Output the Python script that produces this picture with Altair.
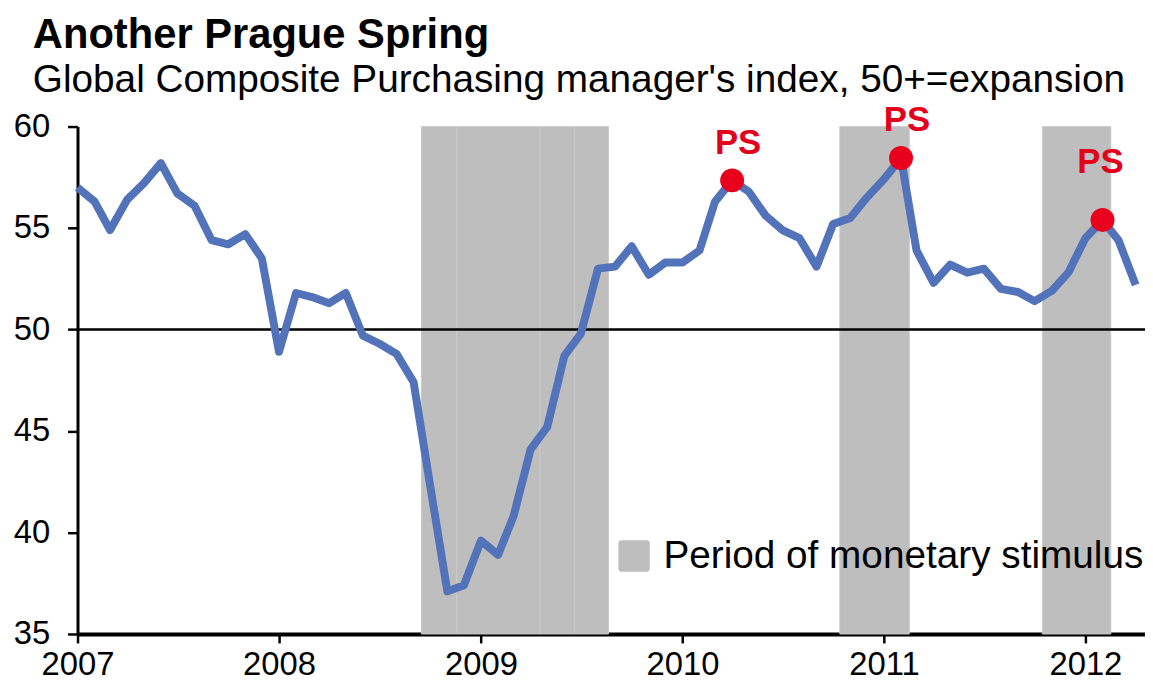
import altair as alt
import pandas as pd

# ---- data ----
months = pd.date_range("2007-01-01", "2012-04-01", freq="MS")
pmi = [
    57.0, 56.3, 54.9, 56.4, 57.2, 58.2, 56.7, 56.1, 54.4, 54.2, 54.7, 53.5,   # 2007
    48.9, 51.8, 51.6, 51.3, 51.8, 49.7, 49.3, 48.8, 47.4, 42.3, 37.1, 37.4,   # 2008
    39.6, 38.9, 40.8, 44.1, 45.2, 48.7, 49.8, 53.0, 53.1, 54.1, 52.7, 53.3,   # 2009
    53.3, 53.9, 56.3, 57.35, 56.8, 55.6, 54.9, 54.5, 53.1, 55.2, 55.5, 56.5,  # 2010
    57.4, 58.45, 53.9, 52.3, 53.2, 52.8, 53.0, 52.0, 51.85, 51.4, 51.9, 52.8, # 2011
    54.5, 55.4, 54.4, 52.2,                                                   # 2012
]

band_start = ["2008-09-15", "2008-11-18", "2009-04-18", "2009-06-20", "2010-10-13", "2011-10-15"]
band_end = ["2008-11-18", "2009-04-18", "2009-06-20", "2009-08-20", "2011-02-16", "2012-02-16"]
band_label = "Period of monetary stimulus"

ps_dates = ["2010-04-01", "2011-02-01", "2012-02-01"]
ps_values = [57.35, 58.45, 55.4]
ps_text = ["PS", "PS", "PS"]

threshold = [50]
y_ticks = [35, 40, 45, 50, 55, 60]

# ---- tables ----
line_df = pd.DataFrame({"date": months, "pmi": pmi})
band_df = pd.DataFrame({
    "start": pd.to_datetime(band_start),
    "end": pd.to_datetime(band_end),
    "label": [band_label] * len(band_start),
})
ps_df = pd.DataFrame({"date": pd.to_datetime(ps_dates), "pmi": ps_values, "t": ps_text})
rule_df = pd.DataFrame({"pmi": threshold})

FONT = "Liberation Sans"
W, H = 1075, 511

x_scale = alt.Scale(domain=[alt.DateTime(year=2007, month=1, date=1),
                            alt.DateTime(year=2012, month=4, date=18)])
y_scale = alt.Scale(domain=[35, 60], nice=False, zero=False)

x_axis = alt.Axis(format="%Y", tickCount="year", labelFlush=False, grid=False,
                  domainColor="black", domainWidth=4, tickColor="black",
                  tickSize=9, tickWidth=2.5, labelFontSize=33, labelPadding=6,
                  labelColor="black", labelFont=FONT, title=None)
y_axis = alt.Axis(values=y_ticks, domainColor="black", domainWidth=3,
                  tickColor="black", tickSize=10, tickWidth=2.5,
                  labelFontSize=33, labelPadding=18, labelColor="black",
                  labelFont=FONT, gridColor="white", gridWidth=3, title=None)

rounded_square = ("M -0.8 -1 L 0.8 -1 Q 1 -1 1 -0.8 L 1 0.8 Q 1 1 0.8 1 "
                  "L -0.8 1 Q -1 1 -1 0.8 L -1 -0.8 Q -1 -1 -0.8 -1 Z")

bands = alt.Chart(band_df).mark_rect(stroke="#cbcbcb", strokeWidth=1, opacity=1).encode(
    x=alt.X("start:T", scale=x_scale, axis=x_axis),
    x2="end:T",
    color=alt.Color("label:N", scale=alt.Scale(range=["#bebebe"]),
                    legend=alt.Legend(orient="none", legendX=541, legendY=413,
                                      title=None, symbolType=rounded_square,
                                      symbolSize=1000, symbolStrokeWidth=0,
                                      symbolOpacity=1, labelFontSize=39,
                                      labelOffset=10, labelFont=FONT,
                                      labelLimit=800,
                                      labelColor="black", padding=0)),
)

rule = alt.Chart(rule_df).mark_rule(color="black", strokeWidth=2.5).encode(
    y=alt.Y("pmi:Q", scale=y_scale, axis=y_axis)
)

line = alt.Chart(line_df).mark_line(color="#5272b9", strokeWidth=8, strokeJoin="round").encode(
    x=alt.X("date:T", scale=x_scale, axis=x_axis),
    y=alt.Y("pmi:Q", scale=y_scale, axis=y_axis),
)

dots = alt.Chart(ps_df).mark_circle(size=580, color="#e8001c", opacity=1).encode(
    x=alt.X("date:T", scale=x_scale),
    y=alt.Y("pmi:Q", scale=y_scale),
)

labels_a = alt.Chart(ps_df.iloc[:2]).mark_text(
    fontSize=35, fontWeight="bold", color="#e3001b", font=FONT,
    baseline="alphabetic", dx=6, dy=-27).encode(
    x=alt.X("date:T", scale=x_scale),
    y=alt.Y("pmi:Q", scale=y_scale),
    text="t:N",
)
labels_b = alt.Chart(ps_df.iloc[2:]).mark_text(
    fontSize=35, fontWeight="bold", color="#e3001b", font=FONT,
    baseline="alphabetic", dx=-2, dy=-47).encode(
    x=alt.X("date:T", scale=x_scale),
    y=alt.Y("pmi:Q", scale=y_scale),
    text="t:N",
)

chart = alt.layer(bands, rule, line, dots, labels_a, labels_b).properties(
    width=W, height=H,
    autosize=alt.AutoSizeParams(type="none"),
    padding={"left": 70, "top": 117, "right": 0, "bottom": 50},
    title=alt.TitleParams(
        text="Another Prague Spring",
        subtitle="Global Composite Purchasing manager's index, 50+=expansion",
        anchor="start", frame="group", font=FONT, fontSize=42, fontWeight="bold",
        color="black", subtitleFont=FONT, subtitleFontSize=39, subtitleColor="black",
        subtitlePadding=5, offset=2, dx=-45,
    ),
).configure_view(stroke=None, fill="#e8edf3").configure(background="white")

chart.save("out.html", embed_options={"renderer": "svg", "actions": False})
